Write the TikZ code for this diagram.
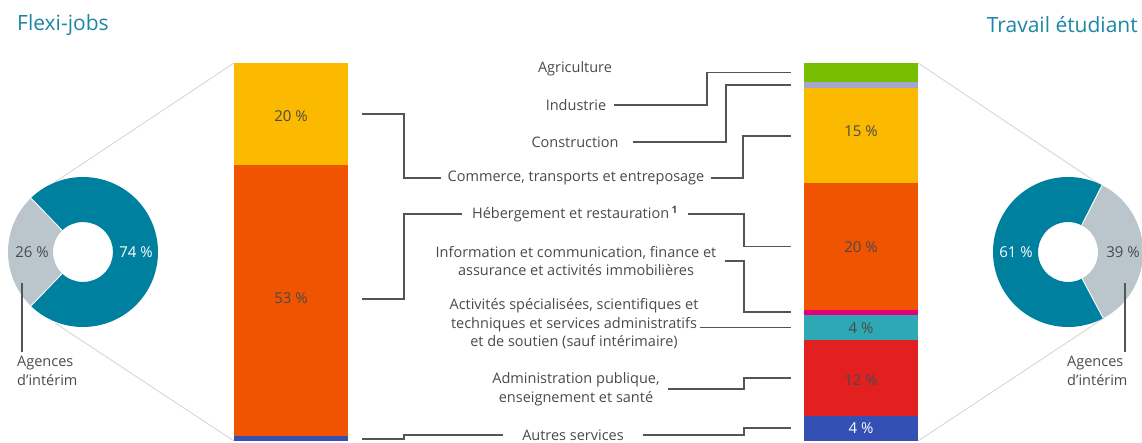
\documentclass[tikz,border=0pt]{standalone}
\usepackage{fontspec}
\setmainfont{Open Sans}
\definecolor{txt}{HTML}{4A4A4A}
\definecolor{linec}{HTML}{555555}
\definecolor{guide}{HTML}{D6D6D6}
\definecolor{title}{HTML}{1B86A6}
\definecolor{dteal}{HTML}{00809F}
\definecolor{dgray}{HTML}{BAC6CC}
\definecolor{cyel}{HTML}{FBB900}
\definecolor{cora}{HTML}{F05400}
\definecolor{cblue}{HTML}{3450B4}
\definecolor{cgreen}{HTML}{78BE00}
\definecolor{clav}{HTML}{A3A7CC}
\definecolor{cmag}{HTML}{E2007A}
\definecolor{cteal}{HTML}{2EA8B4}
\definecolor{cred}{HTML}{E1201F}
\begin{document}
\begin{tikzpicture}[x=1pt,y=-1pt,
  lbl/.style={font=\fontsize{14.5}{18.5}\selectfont, text=txt, align=center, inner ysep=3pt, inner xsep=6pt},
  pct/.style={font=\fontsize{15}{18}\selectfont, text=txt, inner sep=0pt},
  ttl/.style={font=\fontsize{21}{25}\selectfont, text=title},
  conn/.style={draw=linec, line width=1.2pt},
  guideline/.style={draw=guide, line width=0.9pt},
  sep/.style={draw=white, line width=0.9pt}]
\useasboundingbox (0,0) rectangle (1142,443);

% titles
\node[ttl, anchor=west, inner sep=0pt] (t1) at (17,25) {Flexi-jobs};
\node[ttl, anchor=east, inner sep=0pt] (t2) at (1138,25) {Travail étudiant};

% guide lines to donuts
\coordinate (LTop) at (234,63);
\coordinate (LBot) at (234,441);
\coordinate (RTop) at (918,63);
\coordinate (RBot) at (918,441);
\coordinate (dLt) at (55,182);
\coordinate (dLb) at (55,323);
\coordinate (dRt) at (1102,186);
\coordinate (dRb) at (1104,318);
\draw[guideline] (LTop) -- (dLt);
\draw[guideline] (LBot) -- (dLb);
\draw[guideline] (RTop) -- (dRt);
\draw[guideline] (RBot) -- (dRb);

% left donut
\begin{scope}[shift={(83,252)}, yscale=-1]
  \fill[dteal] (-134:75) arc[start angle=-134, end angle=134, radius=75] -- (134:30) arc[start angle=134, end angle=-134, radius=30] -- cycle;
  \fill[dgray] (134:75) arc[start angle=134, end angle=226, radius=75] -- (226:30) arc[start angle=226, end angle=134, radius=30] -- cycle;
  \draw[sep] (134:30) -- (134:75);
  \draw[sep] (226:30) -- (226:75);
\end{scope}
% right donut
\begin{scope}[shift={(1068,252)}, yscale=-1]
  \fill[dteal] (63:75) arc[start angle=63, end angle=298, radius=75] -- (298:30) arc[start angle=298, end angle=63, radius=30] -- cycle;
  \fill[dgray] (-62:75) arc[start angle=-62, end angle=63, radius=75] -- (63:30) arc[start angle=63, end angle=-62, radius=30] -- cycle;
  \draw[sep] (63:30) -- (63:75);
  \draw[sep] (-62:30) -- (-62:75);
\end{scope}
\node[pct] (p26) at (32,252) {26 \%};
\node[pct, text=white] (p74) at (136,252) {74 \%};
\node[pct, text=white] (p61) at (1016,252) {61 \%};
\node[pct] (p39) at (1123,252) {39 \%};

% Agences labels
\node[lbl, align=left, anchor=north west, inner sep=0pt] (ageL) at (17,356) {Agences\\d’intérim};
\node[lbl, align=left, anchor=north west, inner sep=0pt] (ageR) at (1067,356) {Agences\\d’intérim};
\coordinate (aL) at (22,283);
\coordinate (aR) at (1125,283);
\draw[conn] (aL) -- (aL |- 0,352);
\draw[conn] (aR) -- (aR |- 0,352);

% left bar
\fill[cyel] (234,63) rectangle (348,165);
\fill[cora] (234,165) rectangle (348,436);
\fill[cblue] (234,436) rectangle (348,441);
\node[pct] (l20) at (291,116) {20 \%};
\node[pct] (l53) at (291,298) {53 \%};

% right bar
\fill[cgreen] (804,63) rectangle (918,82);
\fill[clav] (804,82) rectangle (918,88);
\fill[cyel] (804,88) rectangle (918,183);
\fill[cora] (804,183) rectangle (918,310);
\fill[cmag] (804,310) rectangle (918,315);
\fill[cteal] (804,315) rectangle (918,340);
\fill[cred] (804,340) rectangle (918,416);
\fill[cblue] (804,416) rectangle (918,441);
\node[pct] (r15) at (861,131) {15 \%};
\node[pct] (r20) at (861,247) {20 \%};
\node[pct] (r4a) at (861,328) {4 \%};
\node[pct] (r12) at (861,380) {12 \%};
\node[pct, text=white] (r4b) at (861,428) {4 \%};

% connector end points
\coordinate (L20) at (362,114);
\coordinate (L53) at (362,299);
\coordinate (L4) at (362,439);
\coordinate (Ragri) at (791,72.5);
\coordinate (Rlav) at (791,85);
\coordinate (R15) at (791,136);
\coordinate (R20) at (791,246.5);
\coordinate (Rmag) at (791,312);
\coordinate (Rteal) at (791,327.5);
\coordinate (R12) at (791,378);
\coordinate (Rblue) at (791,428);

% labels
\node[lbl] (agri) at (575,69) {Agriculture};
\node[lbl, inner xsep=8pt] (ind) at (576,105) {Industrie};
\node[lbl, inner xsep=14pt] (cons) at (575,142) {Construction};
\node[lbl, inner xsep=6pt] (comm) at (576,178) {Commerce, transports et entreposage};
\node[lbl, inner xsep=10pt] (heb) at (575,214) {Hébergement et restauration\,\textsuperscript{\textbf{1}}};
\node[lbl, inner xsep=8pt] (info) at (576,261) {Information et communication, finance et\\assurance et activités immobilières};
\node[lbl, inner xsep=1pt] (act) at (574,324) {Activités spécialisées, scientifiques et\\techniques et services administratifs\\et de soutien (sauf intérimaire)};
\node[lbl, inner xsep=8pt] (adm) at (576,389) {Administration publique,\\enseignement et santé};
\node[lbl, inner xsep=19pt] (aut) at (573,435) {Autres services};

% connectors
\draw[conn] (ind.east) -| (707,72.5) -- (Ragri);
\draw[conn] (cons.east) -| (726,85) -- (Rlav);
\draw[conn] (L20) -- (404,114) |- (comm.west);
\draw[conn] (comm.east) -| (743,136) -- (R15);
\draw[conn] (L53) -- (404,299) |- (heb.west);
\draw[conn] (heb.east) -| (744,246.5) -- (R20);
\draw[conn] (info.east) -| (744,312) -- (Rmag);
\draw[conn] (act.east |- Rteal) -- (Rteal);
\draw[conn] (adm.east) -| (744,378) -- (R12);
\draw[conn] (L4) -- (404,439) -- (404,437) |- (aut.west);
\draw[conn] (aut.east) -| (744,428) -- (Rblue);
\end{tikzpicture}
\end{document}
